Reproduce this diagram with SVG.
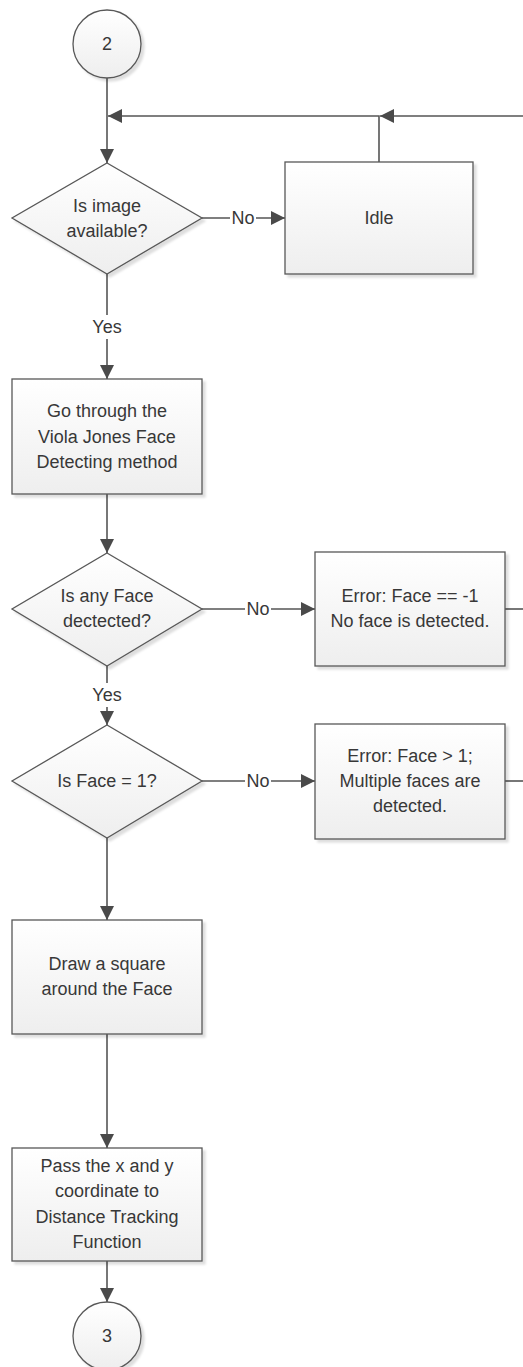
<svg xmlns="http://www.w3.org/2000/svg" width="523" height="1367" viewBox="0 0 523 1367">
  <style>
    .shape { fill: url(#fillGrad); stroke: #585858; stroke-width: 1.3; filter: url(#shadow); }
    .label { font-family: "Liberation Sans", Arial, sans-serif; font-size: 18px; fill: #383838; text-anchor: middle; dominant-baseline: central; }
    .edge { fill: none; stroke: #555555; stroke-width: 1.6; }
    .tag { font-family: "Liberation Sans", Arial, sans-serif; font-size: 18px; fill: #383838; text-anchor: middle; dominant-baseline: central; }
    .tagbg { fill: #ffffff; }
  </style>
  <defs>
    <linearGradient id="fillGrad" x1="0" y1="0" x2="0" y2="1">
      <stop offset="0" stop-color="#ffffff"/>
      <stop offset="1" stop-color="#eeeeee"/>
    </linearGradient>
    <filter id="shadow" x="-10%" y="-10%" width="125%" height="125%">
      <feDropShadow dx="3" dy="3" stdDeviation="1.2" flood-color="#000000" flood-opacity="0.13"/>
    </filter>
    <marker id="arrow" viewBox="0 0 14 14" refX="14" refY="7" markerWidth="14" markerHeight="14" markerUnits="userSpaceOnUse" orient="auto">
      <path d="M0,0 L14,7 L0,14 Z" fill="#4a4a4a"/>
    </marker>
  </defs>

  <rect width="523" height="1367" fill="#ffffff"/>

  <!-- connectors -->
  <g id="connectors">
    <!-- start connector down to first decision -->
    <path class="edge" d="M107,78 V163" marker-end="url(#arrow)"/>
    <!-- return loop from the right edge -->
    <path class="edge" d="M523,116 H380" marker-end="url(#arrow)"/>
    <path class="edge" d="M379,162 V116 H108" marker-end="url(#arrow)"/>
    <!-- image not available -> idle -->
    <path class="edge" d="M202,218 H285" marker-end="url(#arrow)"/>
    <!-- image available -> face detection -->
    <path class="edge" d="M107,274 V379" marker-end="url(#arrow)"/>
    <path class="edge" d="M107,494 V553" marker-end="url(#arrow)"/>
    <!-- no face -> error 1 -->
    <path class="edge" d="M202,609 H315" marker-end="url(#arrow)"/>
    <path class="edge" d="M505,609 H523"/>
    <!-- face found -> count check -->
    <path class="edge" d="M107,666 V725" marker-end="url(#arrow)"/>
    <!-- more than one face -> error 2 -->
    <path class="edge" d="M202,781 H315" marker-end="url(#arrow)"/>
    <path class="edge" d="M505,781 H523"/>
    <!-- single face -> draw square -->
    <path class="edge" d="M107,838 V920" marker-end="url(#arrow)"/>
    <path class="edge" d="M107,1034 V1148" marker-end="url(#arrow)"/>
    <path class="edge" d="M107,1261 V1302" marker-end="url(#arrow)"/>

    <!-- branch labels -->
    <rect class="tagbg" x="230" y="208" width="26" height="20"/>
    <text class="tag" x="243" y="218">No</text>
    <rect class="tagbg" x="91" y="315" width="32" height="24"/>
    <text class="tag" x="107" y="327">Yes</text>
    <rect class="tagbg" x="245" y="599" width="26" height="20"/>
    <text class="tag" x="258" y="609">No</text>
    <rect class="tagbg" x="91" y="683" width="32" height="24"/>
    <text class="tag" x="107" y="695">Yes</text>
    <rect class="tagbg" x="245" y="771" width="26" height="20"/>
    <text class="tag" x="258" y="781">No</text>
  </g>

  <g id="start2">
    <circle class="shape" cx="107" cy="44" r="34"/>
    <text class="label" x="107" y="44">2</text>
  </g>

  <g id="imageAvailable">
    <polygon class="shape" points="107,163 202,218 107,274 12,218"/>
    <text class="label" x="107" y="206">Is image</text>
    <text class="label" x="107" y="231">available?</text>
  </g>

  <g id="idle">
    <rect class="shape" x="285" y="162" width="188" height="112"/>
    <text class="label" x="379" y="218">Idle</text>
  </g>

  <g id="violaJones">
    <rect class="shape" x="12" y="379" width="190" height="115"/>
    <text class="label" x="107" y="411">Go through the</text>
    <text class="label" x="107" y="437">Viola Jones Face</text>
    <text class="label" x="107" y="462">Detecting method</text>
  </g>

  <g id="anyFace">
    <polygon class="shape" points="107,553 202,609 107,666 12,609"/>
    <text class="label" x="107" y="596">Is any Face</text>
    <text class="label" x="107" y="621">dectected?</text>
  </g>

  <g id="errorNoFace">
    <rect class="shape" x="315" y="552" width="190" height="114"/>
    <text class="label" x="410" y="596">Error: Face == -1</text>
    <text class="label" x="410" y="621">No face is detected.</text>
  </g>

  <g id="faceIsOne">
    <polygon class="shape" points="107,725 202,781 107,838 12,781"/>
    <text class="label" x="107" y="781">Is Face = 1?</text>
  </g>

  <g id="errorMultiple">
    <rect class="shape" x="315" y="724" width="190" height="115"/>
    <text class="label" x="410" y="756">Error: Face &gt; 1;</text>
    <text class="label" x="410" y="781">Multiple faces are</text>
    <text class="label" x="410" y="806">detected.</text>
  </g>

  <g id="drawSquare">
    <rect class="shape" x="12" y="920" width="190" height="114"/>
    <text class="label" x="107" y="964">Draw a square</text>
    <text class="label" x="107" y="989">around the Face</text>
  </g>

  <g id="passCoords">
    <rect class="shape" x="12" y="1148" width="190" height="113"/>
    <text class="label" x="107" y="1166">Pass the x and y</text>
    <text class="label" x="107" y="1191">coordinate to</text>
    <text class="label" x="107" y="1217">Distance Tracking</text>
    <text class="label" x="107" y="1242">Function</text>
  </g>

  <g id="end3">
    <circle class="shape" cx="107" cy="1336" r="34"/>
    <text class="label" x="107" y="1336">3</text>
  </g>
</svg>
